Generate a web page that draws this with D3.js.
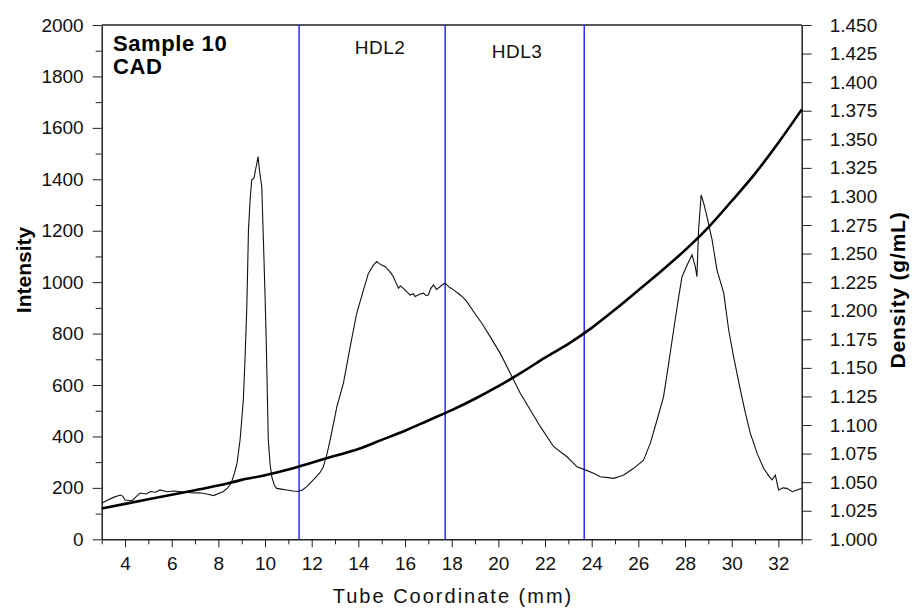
<!DOCTYPE html>
<html>
<head>
<meta charset="utf-8">
<script src="https://cdn.jsdelivr.net/npm/d3@7"></script>
<style>
  body { margin: 0; background: #fff; }
  svg { display: block; font-family: "Liberation Sans", Arial, sans-serif; }
  .axis path, .axis line { stroke: #222; }
  .axis text { fill: #111; font-size: 19px; font-family: "Liberation Sans", Arial, sans-serif; }
</style>
</head>
<body>
<div id="svg-container"></div>
<script>
// tube coordinate (mm) / intensity
var traceX = [3.0, 3.2, 3.5, 3.8, 3.9, 4.0, 4.3, 4.5, 4.65, 4.9, 5.1, 5.3, 5.5, 5.8, 6.1, 6.5, 6.9, 7.2, 7.5, 7.8,
  8.0, 8.2, 8.4, 8.55, 8.7, 8.8, 8.93, 9.07, 9.15, 9.22, 9.29, 9.36, 9.43, 9.53, 9.6, 9.65, 9.7, 9.76, 9.86, 9.93,
  10.0, 10.05, 10.14, 10.22, 10.29, 10.4, 10.5, 10.7, 10.93, 11.2, 11.43, 11.6, 11.79, 12.07, 12.36, 12.5, 12.65, 12.79, 13.08, 13.36,
  13.65, 13.93, 14.22, 14.43, 14.65, 14.79, 14.9, 15.0, 15.15, 15.29, 15.4, 15.5, 15.6, 15.72, 15.8, 15.93, 16.1, 16.22, 16.35, 16.43,
  16.6, 16.79, 16.9, 17.0, 17.1, 17.22, 17.35, 17.5, 17.6, 17.72, 17.9, 18.08, 18.3, 18.5, 18.65, 18.94, 19.29, 19.65, 20.08, 20.51,
  20.94, 21.37, 21.8, 22.37, 22.94, 23.37, 23.72, 24.08, 24.37, 24.7, 24.94, 25.2, 25.37, 25.8, 26.22, 26.51, 26.8, 27.08, 27.3, 27.51,
  27.73, 27.87, 28.09, 28.3, 28.44, 28.51, 28.58, 28.69, 28.8, 28.94, 29.16, 29.37, 29.66, 29.87, 30.08, 30.37, 30.59, 30.8, 31.09, 31.37,
  31.6, 31.73, 31.87, 32.01, 32.2, 32.37, 32.59, 32.8, 33.0];
var traceY = [140, 150, 163, 172, 168, 153, 150, 168, 180, 176, 186, 183, 192, 185, 188, 184, 180, 181, 176, 170,
  178, 185, 200, 218, 260, 296, 386, 542, 720, 905, 1203, 1320, 1397, 1405, 1440, 1462, 1488, 1436, 1371, 1164,
  950, 775, 386, 290, 243, 210, 198, 195, 192, 188, 186, 192, 205, 231, 260, 282, 330, 386, 516, 607,
  749, 879, 970, 1034, 1067, 1080, 1072, 1067, 1060, 1047, 1035, 1021, 1000, 976, 985, 976, 960, 950, 955, 944,
  952, 957, 948, 950, 975, 989, 972, 982, 990, 996, 980, 970, 955, 940, 924, 885, 840, 788, 723, 646,
  568, 503, 438, 360, 321, 282, 270, 257, 243, 240, 237, 244, 250, 276, 308, 373, 464, 555, 684, 814,
  944, 1021, 1067, 1106, 1060, 1021, 1203, 1339, 1307, 1255, 1164, 1047, 957, 814, 710, 581, 490, 412, 334, 276,
  245, 231, 250, 192, 200, 198, 185, 192, 198];

// density gradient (g/mL)
var densX = [3, 4, 5, 6, 7, 8, 9, 10, 11, 12, 13, 14, 15, 16, 17, 18, 19, 20, 21, 22, 23, 24, 25, 26, 27, 28, 29, 30, 31, 32, 33];
var densY = [1.027, 1.031, 1.035, 1.039, 1.043, 1.047, 1.052, 1.056, 1.061, 1.067, 1.073, 1.079, 1.087, 1.095, 1.104, 1.113,
  1.123, 1.134, 1.146, 1.159, 1.171, 1.185, 1.201, 1.218, 1.235, 1.253, 1.273, 1.296, 1.320, 1.347, 1.376];

// fraction boundaries and labels
var boundaries = [11.46, 17.72, 23.68];
var fractionNames = ["HDL2", "HDL3"];
var fractionX = [14.93, 20.8];

var width = 913;
var height = 614;
var plot = { left: 101.7, right: 801.7, top: 25, bottom: 539.3 };

var svg = d3.select("#svg-container")
            .append("svg")
            .attr("width", width)
            .attr("height", height);

var scaleX = d3.scaleLinear().domain([3, 33]).range([plot.left, plot.right]);
var scaleY = d3.scaleLinear().domain([0, 2000]).range([plot.bottom, plot.top]);
var densScale = d3.scaleLinear().domain([1.0, 1.45]).range([plot.bottom, plot.top]);

// minor ticks first, then labelled ones
svg.append("g")
   .attr("class", "axis")
   .attr("transform", "translate(0," + plot.bottom + ")")
   .call(d3.axisBottom(scaleX).tickValues(d3.range(3, 34, 2)).tickSize(5).tickFormat("").tickSizeOuter(0))
   .call(function(g) { g.select(".domain").remove(); });

svg.append("g")
   .attr("class", "axis")
   .attr("transform", "translate(0," + plot.bottom + ")")
   .call(d3.axisBottom(scaleX).tickValues(d3.range(4, 33, 2)).tickSize(8).tickSizeOuter(0).tickPadding(9))
   .call(function(g) { g.select(".domain").attr("stroke-width", 1.5); });

svg.append("g")
   .attr("class", "axis")
   .attr("transform", "translate(" + plot.left + ",0)")
   .call(d3.axisLeft(scaleY).tickValues(d3.range(100, 2000, 200)).tickSize(6).tickFormat("").tickSizeOuter(0))
   .call(function(g) { g.select(".domain").remove(); });

svg.append("g")
   .attr("class", "axis")
   .attr("transform", "translate(" + plot.left + ",0)")
   .call(d3.axisLeft(scaleY).tickValues(d3.range(0, 2001, 200)).tickSize(9).tickSizeOuter(0).tickPadding(9)
           .tickFormat(d3.format("d")))
   .call(function(g) { g.select(".domain").attr("stroke-width", 1.5); });

svg.append("g")
   .attr("class", "axis")
   .attr("transform", "translate(" + plot.right + ",0)")
   .call(d3.axisRight(densScale).tickValues(d3.range(0, 19).map(function(i) { return 1 + i * 0.025; }))
           .tickSize(10).tickSizeOuter(0).tickPadding(18).tickFormat(d3.format(".3f")))
   .call(function(g) { g.select(".domain").attr("stroke-width", 1.5); });

// top frame line
svg.append("line")
   .attr("x1", plot.left).attr("x2", plot.right)
   .attr("y1", plot.top).attr("y2", plot.top)
   .attr("stroke", "#222").attr("stroke-width", 1.5);

// fraction boundaries
svg.selectAll(".boundary")
   .data(boundaries)
   .enter()
   .append("line")
   .attr("class", "boundary")
   .attr("x1", function(d) { return scaleX(d); })
   .attr("x2", function(d) { return scaleX(d); })
   .attr("y1", plot.top)
   .attr("y2", plot.bottom)
   .attr("stroke", "#2b2bff")
   .attr("stroke-width", 1.5);

svg.selectAll(".fraction")
   .data(fractionNames)
   .enter()
   .append("text")
   .attr("class", "fraction")
   .attr("x", function(d, i) { return scaleX(fractionX[i]); })
   .attr("y", function(d, i) { return i == 0 ? 54 : 58; })
   .attr("text-anchor", "middle")
   .attr("font-size", 19)
   .attr("letter-spacing", 0.5)
   .attr("fill", "#111")
   .text(function(d) { return d; });

var trace = traceX.map(function(x, i) { return { x: x, y: traceY[i] }; });
var density = densX.map(function(x, i) { return { x: x, y: densY[i] }; });

svg.append("path")
   .datum(trace)
   .attr("fill", "none")
   .attr("stroke", "#111")
   .attr("stroke-width", 1.1)
   .attr("d", d3.line()
                .x(function(d) { return scaleX(d.x); })
                .y(function(d) { return scaleY(d.y); }));

svg.append("path")
   .datum(density)
   .attr("fill", "none")
   .attr("stroke", "#000")
   .attr("stroke-width", 2.6)
   .attr("d", d3.line()
                .x(function(d) { return scaleX(d.x); })
                .y(function(d) { return densScale(d.y); })
                .curve(d3.curveMonotoneX));

// titles
svg.append("text")
   .attr("x", 113).attr("y", 51)
   .attr("font-size", 22).attr("font-weight", "bold").attr("letter-spacing", 0.6)
   .text("Sample 10");

svg.append("text")
   .attr("x", 113).attr("y", 74)
   .attr("font-size", 22).attr("font-weight", "bold").attr("letter-spacing", 0.6)
   .text("CAD");

svg.append("text")
   .attr("transform", "translate(31,270) rotate(-90)")
   .attr("text-anchor", "middle")
   .attr("font-size", 21).attr("font-weight", "bold")
   .text("Intensity");

svg.append("text")
   .attr("transform", "translate(905,290) rotate(-90)")
   .attr("text-anchor", "middle")
   .attr("font-size", 21).attr("font-weight", "bold").attr("letter-spacing", 0.8)
   .text("Density (g/mL)");

svg.append("text")
   .attr("x", 453).attr("y", 603)
   .attr("text-anchor", "middle")
   .attr("font-size", 20).attr("letter-spacing", 2)
   .attr("fill", "#111")
   .text("Tube Coordinate (mm)");
</script>
</body>
</html>
